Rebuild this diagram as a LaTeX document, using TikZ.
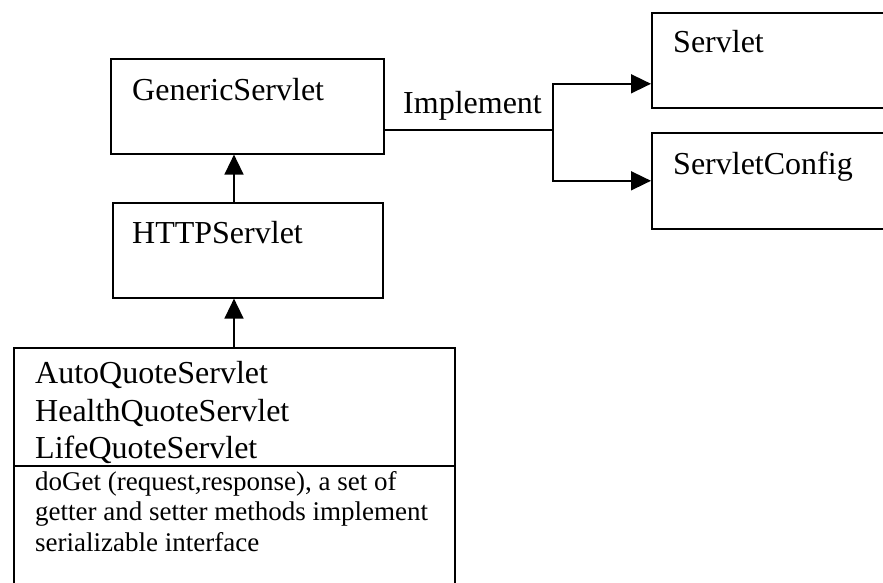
\documentclass[tikz,border=0pt]{standalone}
\usepackage{fontspec}
\setmainfont{Liberation Serif}
\usetikzlibrary{arrows.meta}
\begin{document}
\begin{tikzpicture}[x=1pt,y=-1pt,
  box/.style={draw=black,line width=1.6pt,rectangle,inner sep=0pt,anchor=north west},
  lbl/.style={anchor=base west,inner sep=0pt,font=\fontsize{32}{37}\selectfont},
  small/.style={anchor=base west,inner sep=0pt,font=\fontsize{27}{30}\selectfont},
  conn/.style={line width=1.6pt,draw=black},
  arr/.style={conn,-{Triangle[length=20pt,width=19pt]}}]
\useasboundingbox[fill=white] (0,0) rectangle (883,582);
% boxes
\node[box,minimum width=273pt,minimum height=95pt] (gs) at (110,58) {};
\node[box,minimum width=270pt,minimum height=95pt] (hs) at (112,202) {};
\node[box,minimum width=441pt,minimum height=260pt] (qs) at (13,347) {};
\node[box,minimum width=260pt,minimum height=95pt] (sv) at (651,12) {};
\node[box,minimum width=260pt,minimum height=96pt] (sc) at (651,132) {};
% texts
\node[lbl] (tgs) at (132,100) {GenericServlet};
\node[lbl] (ths) at (132,243) {HTTPServlet};
\node[lbl] (tsv) at (673,52) {Servlet};
\node[lbl] (tsc) at (673,174) {ServletConfig};
\node[lbl] (timp) at (403,113) {Implement};
\node[lbl] (q1) at (35,383) {AutoQuoteServlet};
\node[lbl] (q2) at (35,421) {HealthQuoteServlet};
\node[lbl] (q3) at (35,458) {LifeQuoteServlet};
\node[small] (m1) at (35,490) {doGet (request,response), a set of};
\node[small] (m2) at (35,520) {getter and setter methods implement};
\node[small] (m3) at (35,551) {serializable interface};
% divider
\coordinate (dv) at (0,466);
\draw[conn] (dv -| qs.west) -- (dv -| qs.east);
% inheritance arrows
\coordinate (ax) at (234,0);
\draw[arr] (hs.north -| ax) -- (gs.south -| ax);
\draw[arr] (qs.north -| ax) -- (hs.south -| ax);
% implement connectors
\coordinate (j) at (553,130);
\draw[conn] (j -| gs.east) -- (j);
\draw[arr] (j) |- ([yshift=-23.5pt]sv.west);
\draw[arr] (j) |- (sc.west);
\end{tikzpicture}
\end{document}
